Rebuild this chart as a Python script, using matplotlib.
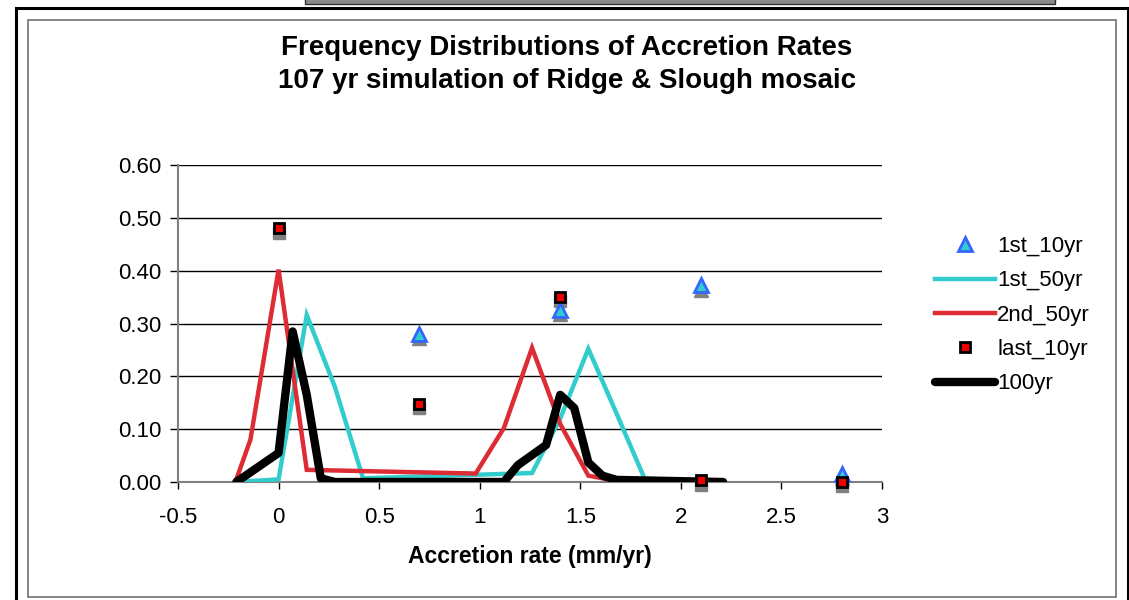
import matplotlib
matplotlib.use('Agg')
import matplotlib.pyplot as plt
import matplotlib.patches as patches
import matplotlib.transforms as mtransforms

plt.rcParams['font.family'] = ['Liberation Sans', 'DejaVu Sans']

# point series (scatter)
pts_x = [0.7, 1.4, 2.1, 2.8]
first_10yr = [0.28, 0.325, 0.372, 0.015]
last_x = [0.0, 0.7, 1.4, 2.1, 2.8]
last_10yr = [0.48, 0.148, 0.35, 0.003, 0.0]

# line series
first_50_x = [-0.21, 0.0, 0.14, 0.28, 0.42, 1.26, 1.40, 1.54, 1.68, 1.82, 2.21]
first_50yr = [0.0, 0.005, 0.316, 0.18, 0.007, 0.017, 0.12, 0.252, 0.13, 0.006, 0.002]
second_50_x = [-0.21, -0.14, 0.0, 0.14, 0.98, 1.12, 1.26, 1.40, 1.54, 1.68]
second_50yr = [0.005, 0.08, 0.402, 0.023, 0.016, 0.102, 0.254, 0.11, 0.012, 0.002]
yr100_x = [-0.21, 0.0, 0.07, 0.14, 0.21, 0.28, 1.12, 1.19, 1.33, 1.40, 1.47,
           1.54, 1.61, 1.68, 2.21]
yr100 = [0.0, 0.055, 0.285, 0.165, 0.007, 0.0, 0.0, 0.032, 0.07, 0.165, 0.14,
         0.037, 0.012, 0.004, 0.0]

fig = plt.figure(figsize=(11.29, 6.0), dpi=100)
fig.patch.set_facecolor('white')

# frames around the chart
W, H = 1129, 600
def px_rect(x0, y0, x1, y1, **kw):
    r = patches.Rectangle((x0 / W, 1 - y1 / H), (x1 - x0) / W, (y1 - y0) / H,
                          transform=fig.transFigure, fill=False, **kw)
    fig.add_artist(r)

px_rect(16, 8, 1128, 606, edgecolor='black', linewidth=2.2)
px_rect(28, 20, 1116, 597, edgecolor='#707070', linewidth=1.2)
fig.add_artist(patches.Rectangle((305 / W, 1 - 4 / H), 750 / W, 6 / H,
                                 transform=fig.transFigure, facecolor='#8a8a8a',
                                 edgecolor='#303030', linewidth=1))

ax = fig.add_axes([178 / W, 1 - 482 / H, 704 / W, 317 / H])
ax.set_xlim(-0.5, 3)
ax.set_ylim(0, 0.6)
ax.set_yticks([0, 0.1, 0.2, 0.3, 0.4, 0.5, 0.6])
ax.set_yticklabels(['%.2f' % v for v in ax.get_yticks()], fontsize=16)
ax.set_xticks([-0.5, 0, 0.5, 1, 1.5, 2, 2.5, 3])
ax.set_xticklabels(['-0.5', '0', '0.5', '1', '1.5', '2', '2.5', '3'], fontsize=16)
ax.yaxis.grid(True, color='black', linewidth=1)
ax.set_axisbelow(True)
for s in ['top', 'right']:
    ax.spines[s].set_visible(False)
ax.spines['left'].set_color('#808080')
ax.spines['left'].set_linewidth(1.5)
ax.spines['bottom'].set_color('#808080')
ax.spines['bottom'].set_linewidth(1.5)
ax.tick_params(axis='y', length=6, width=1, direction='out', pad=6)
ax.tick_params(axis='x', length=5, width=1, direction='out', pad=13)

ax.plot(first_50_x, first_50yr, color='#33CCCC', linewidth=3.2, label='1st_50yr',
        zorder=3, solid_joinstyle='miter')
ax.plot(second_50_x, second_50yr, color='#DD2C35', linewidth=3.2, label='2nd_50yr',
        zorder=3, solid_joinstyle='miter')
ax.plot(yr100_x, yr100, color='black', linewidth=6, label='100yr', zorder=4,
        solid_capstyle='round')

# shadows under markers
shadow = mtransforms.offset_copy(ax.transData, fig=fig, x=0, y=-3, units='points')
ax.plot(pts_x, first_10yr, linestyle='none', marker='^', markersize=10,
        color='#808080', transform=shadow, zorder=5, clip_on=False)
ax.plot(last_x, last_10yr, linestyle='none', marker='s', markersize=8,
        color='#808080', transform=shadow, zorder=5, clip_on=False)

ax.plot(pts_x, first_10yr, linestyle='none', marker='^', markersize=10,
        markerfacecolor='#33CCCC', markeredgecolor='#3366FF', markeredgewidth=2,
        label='1st_10yr', zorder=6, clip_on=False)
ax.plot(last_x, last_10yr, linestyle='none', marker='s', markersize=7,
        markerfacecolor='#EE0000', markeredgecolor='black', markeredgewidth=2,
        label='last_10yr', zorder=7, clip_on=False)

handles, labels = ax.get_legend_handles_labels()
order = ['1st_10yr', '1st_50yr', '2nd_50yr', 'last_10yr', '100yr']
hmap = dict(zip(labels, handles))
leg = fig.legend([hmap[k] for k in order], order, loc='upper left',
                 bbox_to_anchor=(915 / W, 1 - 216 / H), frameon=False,
                 fontsize=16, handlelength=2.7, handletextpad=0.1,
                 labelspacing=0.6)

fig.text(567 / W, 1 - 48 / H, 'Frequency Distributions of Accretion Rates',
         ha='center', va='center', fontsize=20, fontweight='bold')
fig.text(567 / W, 1 - 81 / H, '107 yr simulation of Ridge & Slough mosaic',
         ha='center', va='center', fontsize=20, fontweight='bold')
ax.set_xlabel('Accretion rate (mm/yr)', fontsize=16.5, fontweight='bold',
              labelpad=12)

fig.savefig('out.png', dpi=100, facecolor='white')
